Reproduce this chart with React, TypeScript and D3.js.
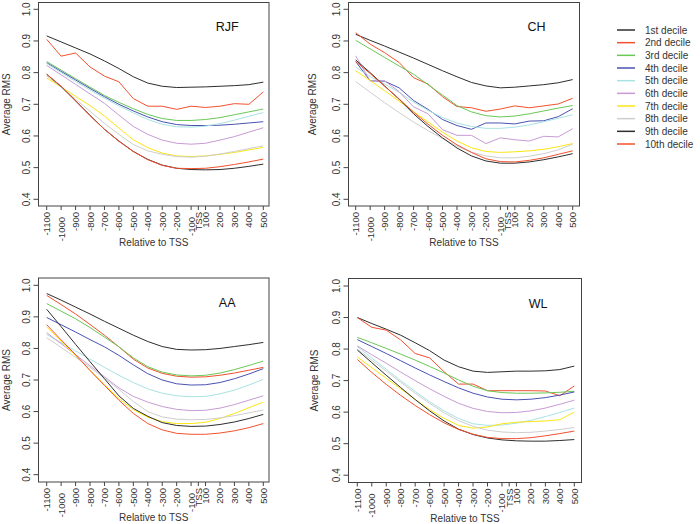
import React from 'react';
import * as d3 from 'd3';

// ---------- data ----------
const xLabels = ['-1100', '-1000', '-900', '-800', '-700', '-600', '-500', '-400', '-300', '-200', '-100', '100', '200', '300', '400', '500'];
const tssLabel = 'TSS';
const tssPos = 10.5;
const yTicks = [0.4, 0.5, 0.6, 0.7, 0.8, 0.9, 1.0];
const deciles = ['1st decile', '2nd decile', '3rd decile', '4th decile', '5th decile', '6th decile', '7th decile', '8th decile', '9th decile', '10th decile'];
const colors = ['#2e2e2e', '#f2512e', '#6ac857', '#4a52b2', '#a9e2e2', '#c89bd4', '#fbe612', '#cecece', '#2e2e2e', '#f2512e'];

const rjfValues: number[][] = [
  [0.916, 0.897, 0.878, 0.859, 0.837, 0.813, 0.787, 0.767, 0.757, 0.753, 0.754, 0.755, 0.757, 0.759, 0.762, 0.770],
  [0.905, 0.852, 0.862, 0.818, 0.789, 0.771, 0.718, 0.694, 0.694, 0.684, 0.694, 0.690, 0.694, 0.702, 0.700, 0.739],
  [0.835, 0.808, 0.781, 0.754, 0.728, 0.706, 0.686, 0.668, 0.655, 0.649, 0.649, 0.652, 0.658, 0.667, 0.676, 0.685],
  [0.831, 0.804, 0.777, 0.750, 0.724, 0.700, 0.679, 0.660, 0.645, 0.636, 0.633, 0.633, 0.634, 0.637, 0.641, 0.645],
  [0.829, 0.800, 0.772, 0.745, 0.719, 0.695, 0.673, 0.652, 0.637, 0.629, 0.628, 0.631, 0.639, 0.650, 0.662, 0.674],
  [0.823, 0.793, 0.763, 0.733, 0.703, 0.666, 0.630, 0.605, 0.587, 0.577, 0.574, 0.577, 0.587, 0.598, 0.612, 0.626],
  [0.783, 0.755, 0.725, 0.696, 0.663, 0.625, 0.588, 0.563, 0.546, 0.537, 0.535, 0.537, 0.542, 0.548, 0.556, 0.564],
  [0.790, 0.755, 0.716, 0.678, 0.640, 0.605, 0.573, 0.553, 0.542, 0.535, 0.533, 0.536, 0.543, 0.551, 0.560, 0.569],
  [0.795, 0.756, 0.711, 0.665, 0.621, 0.584, 0.551, 0.526, 0.508, 0.498, 0.494, 0.493, 0.494, 0.498, 0.504, 0.511],
  [0.795, 0.757, 0.711, 0.664, 0.621, 0.583, 0.551, 0.525, 0.507, 0.498, 0.497, 0.498, 0.503, 0.510, 0.518, 0.527],
];

const chValues: number[][] = [
  [0.921, 0.902, 0.884, 0.865, 0.846, 0.826, 0.806, 0.787, 0.769, 0.758, 0.752, 0.754, 0.758, 0.762, 0.768, 0.778],
  [0.926, 0.890, 0.863, 0.832, 0.784, 0.764, 0.724, 0.693, 0.689, 0.678, 0.685, 0.695, 0.689, 0.695, 0.701, 0.719],
  [0.902, 0.875, 0.848, 0.821, 0.795, 0.762, 0.729, 0.696, 0.676, 0.664, 0.660, 0.663, 0.670, 0.679, 0.688, 0.696],
  [0.835, 0.774, 0.773, 0.752, 0.712, 0.684, 0.652, 0.633, 0.621, 0.641, 0.641, 0.638, 0.647, 0.648, 0.661, 0.686],
  [0.818, 0.787, 0.764, 0.738, 0.707, 0.681, 0.658, 0.641, 0.630, 0.624, 0.624, 0.628, 0.635, 0.645, 0.656, 0.667],
  [0.853, 0.774, 0.774, 0.740, 0.692, 0.670, 0.620, 0.602, 0.602, 0.576, 0.594, 0.588, 0.584, 0.599, 0.597, 0.623],
  [0.806, 0.775, 0.743, 0.710, 0.677, 0.644, 0.612, 0.584, 0.563, 0.551, 0.548, 0.550, 0.553, 0.558, 0.566, 0.576],
  [0.772, 0.738, 0.705, 0.674, 0.644, 0.617, 0.592, 0.568, 0.549, 0.537, 0.531, 0.531, 0.536, 0.544, 0.556, 0.574],
  [0.840, 0.800, 0.758, 0.716, 0.670, 0.630, 0.594, 0.562, 0.537, 0.521, 0.514, 0.514, 0.518, 0.525, 0.534, 0.544],
  [0.835, 0.797, 0.757, 0.717, 0.675, 0.637, 0.602, 0.572, 0.548, 0.528, 0.519, 0.518, 0.523, 0.531, 0.542, 0.553],
];

const aaValues: number[][] = [
  [0.974, 0.953, 0.931, 0.909, 0.886, 0.864, 0.842, 0.822, 0.806, 0.797, 0.795, 0.796, 0.800, 0.806, 0.812, 0.819],
  [0.968, 0.939, 0.909, 0.876, 0.842, 0.805, 0.766, 0.738, 0.721, 0.712, 0.709, 0.710, 0.715, 0.722, 0.731, 0.740],
  [0.942, 0.918, 0.894, 0.866, 0.836, 0.805, 0.770, 0.742, 0.725, 0.716, 0.713, 0.715, 0.722, 0.733, 0.746, 0.760],
  [0.898, 0.875, 0.852, 0.828, 0.805, 0.778, 0.748, 0.720, 0.700, 0.688, 0.684, 0.685, 0.692, 0.704, 0.719, 0.736],
  [0.844, 0.818, 0.792, 0.766, 0.740, 0.715, 0.692, 0.672, 0.658, 0.650, 0.647, 0.648, 0.656, 0.668, 0.684, 0.702],
  [0.850, 0.815, 0.780, 0.745, 0.710, 0.675, 0.648, 0.630, 0.616, 0.607, 0.603, 0.604, 0.611, 0.622, 0.636, 0.650],
  [0.868, 0.823, 0.777, 0.731, 0.685, 0.641, 0.606, 0.582, 0.568, 0.562, 0.562, 0.566, 0.578, 0.594, 0.612, 0.630],
  [0.834, 0.803, 0.772, 0.740, 0.706, 0.670, 0.632, 0.600, 0.583, 0.576, 0.574, 0.575, 0.580, 0.587, 0.596, 0.605],
  [0.924, 0.869, 0.813, 0.758, 0.704, 0.650, 0.610, 0.585, 0.565, 0.556, 0.553, 0.554, 0.559, 0.567, 0.578, 0.591],
  [0.875, 0.827, 0.780, 0.730, 0.683, 0.636, 0.594, 0.562, 0.542, 0.531, 0.528, 0.528, 0.532, 0.539, 0.549, 0.562],
];

const wlValues: number[][] = [
  [0.900, 0.881, 0.863, 0.844, 0.820, 0.795, 0.765, 0.744, 0.730, 0.726, 0.728, 0.730, 0.730, 0.731, 0.735, 0.746],
  [0.900, 0.869, 0.860, 0.829, 0.786, 0.772, 0.728, 0.689, 0.689, 0.668, 0.668, 0.668, 0.668, 0.667, 0.652, 0.683],
  [0.837, 0.820, 0.802, 0.784, 0.765, 0.745, 0.724, 0.702, 0.682, 0.668, 0.662, 0.660, 0.660, 0.661, 0.663, 0.666],
  [0.830, 0.808, 0.786, 0.763, 0.740, 0.718, 0.697, 0.677, 0.660, 0.648, 0.641, 0.639, 0.641, 0.646, 0.654, 0.664],
  [0.808, 0.772, 0.736, 0.700, 0.666, 0.633, 0.604, 0.580, 0.563, 0.558, 0.559, 0.565, 0.574, 0.586, 0.599, 0.613],
  [0.810, 0.782, 0.755, 0.727, 0.700, 0.674, 0.650, 0.628, 0.612, 0.602, 0.598, 0.599, 0.604, 0.613, 0.625, 0.638],
  [0.775, 0.741, 0.707, 0.674, 0.640, 0.608, 0.580, 0.558, 0.549, 0.553, 0.563, 0.568, 0.570, 0.572, 0.576, 0.600],
  [0.800, 0.765, 0.730, 0.695, 0.660, 0.628, 0.598, 0.573, 0.555, 0.543, 0.537, 0.535, 0.536, 0.540, 0.545, 0.551],
  [0.797, 0.757, 0.717, 0.678, 0.640, 0.604, 0.572, 0.546, 0.529, 0.518, 0.512, 0.509, 0.508, 0.508, 0.510, 0.513],
  [0.767, 0.726, 0.688, 0.653, 0.621, 0.592, 0.566, 0.545, 0.530, 0.520, 0.516, 0.516, 0.519, 0.525, 0.532, 0.540],
];

// ---------- layout ----------
const FONT = '"Liberation Sans", Arial, Helvetica, sans-serif';
const TEXT = '#333';

type Panel = {
  name: string;
  values: number[][];
  box: [number, number, number, number]; // left, right, top, bottom
  xr: [number, number];
  yr: [number, number]; // pixel for 0.4, 1.0
  yTitleX: number;
  xTitleY: number;
};

const panels: Panel[] = [
  { name: 'RJF', values: rjfValues, box: [38.5, 269, 2.5, 206], xr: [46.7, 263.3], yr: [199.3, 9.3], yTitleX: 10, xTitleY: 246 },
  { name: 'CH', values: chValues, box: [348.5, 579.5, 2.5, 206], xr: [355.7, 572.7], yr: [199.3, 9.3], yTitleX: 316, xTitleY: 246 },
  { name: 'AA', values: aaValues, box: [38.5, 269, 278, 482], xr: [46.7, 263.3], yr: [474.7, 285.3], yTitleX: 10, xTitleY: 521 },
  { name: 'WL', values: wlValues, box: [348.5, 581.5, 278.5, 482.5], xr: [357.3, 574.3], yr: [475.2, 286], yTitleX: 318, xTitleY: 522 },
];

function PanelView({ p }: { p: Panel }) {
  const x = d3.scaleLinear().domain([0, xLabels.length - 1]).range(p.xr);
  const y = d3.scaleLinear().domain([0.4, 1.0]).range(p.yr);
  const line = d3.line<number>().x((_, i) => x(i)).y((v) => y(v));
  const [l, r, t, b] = p.box;
  const cx = (l + r) / 2;
  const cy = (t + b) / 2;
  const tickPositions = xLabels.map((lab, i) => ({ lab, pos: i < 11 ? i : i })).concat([]);
  const xTicks: { lab: string; pos: number; shift: number }[] = [];
  xLabels.forEach((lab, i) => {
    if (i === 11) xTicks.push({ lab: tssLabel, pos: tssPos, shift: 0 });
    xTicks.push({ lab, pos: i, shift: lab === '-1000' || lab === '-100' ? 5 : 0 });
  });
  void tickPositions;
  return (
    <g>
      {p.values.map((vals, k) => (
        <path key={k} d={line(vals) || ''} fill="none" stroke={colors[k]} strokeWidth={1} />
      ))}
      <rect x={l} y={t} width={r - l} height={b - t} fill="none" stroke="#444" strokeWidth={1} />
      {yTicks.map((v) => (
        <g key={v}>
          <line x1={l} x2={l - 5} y1={y(v)} y2={y(v)} stroke="#444" />
          <text
            transform={`translate(${l - 9},${y(v)}) rotate(-90)`}
            textAnchor="middle"
            fontSize={10}
            fill={TEXT}
            fontFamily={FONT}
          >
            {v.toFixed(1)}
          </text>
        </g>
      ))}
      {xTicks.map((tk) => (
        <g key={tk.lab}>
          <line x1={x(tk.pos)} x2={x(tk.pos)} y1={b} y2={b + 4} stroke="#444" />
          <text
            transform={`translate(${x(tk.pos) + 3.5},${b + 6 + tk.shift}) rotate(-90)`}
            textAnchor="end"
            fontSize={9.5}
            fill={TEXT}
            fontFamily={FONT}
          >
            {tk.lab}
          </text>
        </g>
      ))}
      <text x={cx} y={p.xTitleY} textAnchor="middle" fontSize={10} fill={TEXT} fontFamily={FONT}>
        Relative to TSS
      </text>
      <text
        transform={`translate(${p.yTitleX},${cy}) rotate(-90)`}
        textAnchor="middle"
        fontSize={10}
        fill={TEXT}
        fontFamily={FONT}
      >
        Average RMS
      </text>
      <text x={x(12.5)} y={y(0.93)} textAnchor="middle" fontSize={12.5} fill="#111" fontFamily={FONT}>
        {p.name}
      </text>
    </g>
  );
}

export default function App() {
  const legendY = d3.scaleLinear().domain([0, deciles.length - 1]).range([30, 144]);
  return (
    <svg width={700} height={524} style={{ position: 'absolute', left: 0, top: 0, background: '#fff' }}>
      <rect x={0} y={0} width={700} height={524} fill="#fff" />
      {panels.map((p) => (
        <PanelView key={p.name} p={p} />
      ))}
      {deciles.map((d, k) => (
        <g key={d}>
          <line x1={617} x2={635} y1={legendY(k)} y2={legendY(k)} stroke={colors[k]} strokeWidth={1.5} />
          <text x={645} y={legendY(k) + 3.5} fontSize={10} fill={TEXT} fontFamily={FONT}>
            {d}
          </text>
        </g>
      ))}
    </svg>
  );
}
